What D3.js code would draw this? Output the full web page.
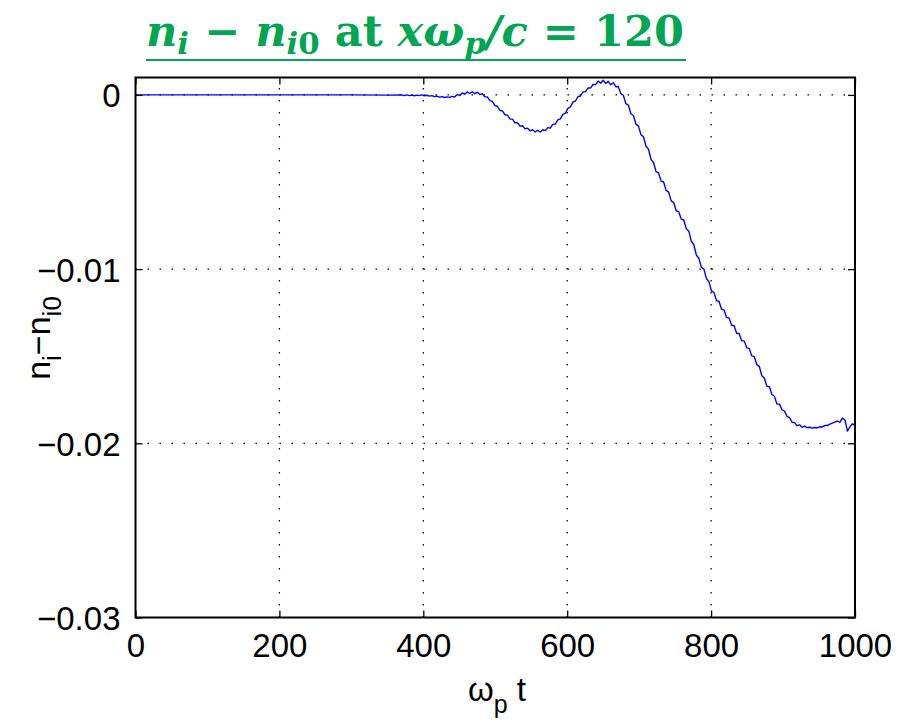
<!DOCTYPE html>
<html><head><meta charset="utf-8">
<script src="https://cdn.jsdelivr.net/npm/d3@7"></script>
<style>body{margin:0;background:#fff}svg{display:block}</style>
</head><body>
<svg id="chart" width="918" height="727"></svg>
<script>
// ---- data ----
const xTicks = [0, 200, 400, 600, 800, 1000];
const yTicks = [0, -0.01, -0.02, -0.03];
const yTickLabels = ["0", "\u22120.01", "\u22120.02", "\u22120.03"];
const xDomain = [0, 1000];
const yDomain = [-0.03, 0.001];

// early, nearly flat part (omega_p t, value in units of 1e-3)
const tEarly = [0, 50, 100, 150, 200, 250, 300, 350];
const vEarly = [0, 0, 0, 0, 0, 0, 0, -0.01];

// dense part: omega_p t from 370 to 1000, every 3.5 (values in units of 1e-3)
const denseStart = 370;
const denseStep = 3.5;
const vDense = [
  0.00,-0.04,0.00,-0.04,-0.01,-0.05,-0.01,-0.04,0.00,-0.05,
  -0.02,-0.07,-0.04,-0.10,-0.07,-0.13,-0.10,-0.15,-0.11,-0.14,
  -0.08,-0.12,0.02,-0.03,0.11,0.04,0.17,0.08,0.18,0.07,
  0.15,0.02,0.07,-0.11,-0.11,-0.33,-0.37,-0.61,-0.65,-0.89,
  -0.92,-1.14,-1.16,-1.38,-1.39,-1.60,-1.60,-1.79,-1.77,-1.95,
  -1.91,-2.06,-2.00,-2.13,-2.04,-2.13,-2.00,-2.05,-1.88,-1.90,
  -1.69,-1.67,-1.43,-1.38,-1.12,-1.05,-0.77,-0.69,-0.41,-0.35,
  -0.10,-0.06,0.17,0.19,0.40,0.40,0.60,0.59,0.79,0.67,
  0.84,0.66,0.78,0.58,0.70,0.47,0.48,0.07,-0.02,-0.50,
  -0.58,-1.08,-1.18,-1.68,-1.78,-2.28,-2.40,-2.95,-3.12,-3.70,
  -3.88,-4.40,-4.48,-4.95,-5.00,-5.48,-5.58,-6.08,-6.18,-6.65,
  -6.70,-7.13,-7.18,-7.68,-7.82,-8.40,-8.60,-9.20,-9.38,-9.90,
  -10.00,-10.55,-10.72,-11.25,-11.35,-11.80,-11.85,-12.30,-12.35,-12.78,
  -12.80,-13.22,-13.25,-13.68,-13.70,-14.12,-14.12,-14.52,-14.55,-14.98,
  -15.02,-15.48,-15.58,-16.12,-16.25,-16.72,-16.75,-17.20,-17.30,-17.75,
  -17.75,-18.07,-18.15,-18.45,-18.53,-18.79,-18.81,-18.99,-18.94,-19.08,
  -19.01,-19.10,-19.08,-19.13,-19.09,-19.12,-19.05,-19.06,-18.98,-18.98,
  -18.90,-18.84,-18.78,-18.72,-18.80,-18.55,-18.66,-19.30,-19.05,-18.88,
  -18.97
];

// ---- build series ----
const series = tEarly.map((t, i) => ({t, v: vEarly[i] * 1e-3}))
  .concat(vDense.map((v, k) => ({t: denseStart + k * denseStep, v: v * 1e-3})));

// ---- layout ----
const svg = d3.select("#chart");
const L = 135.5, R = 855, T = 77.5, B = 617.5;
const x = d3.scaleLinear().domain(xDomain).range([L, R]);
const y = d3.scaleLinear().domain(yDomain).range([B, T]);
const FONT = "'Liberation Sans', Arial, Helvetica, sans-serif";
const tickFS = 33;

// grid (dotted)
const grid = svg.append("g").attr("stroke", "#000").attr("stroke-width", 1.3)
  .attr("stroke-dasharray", "1.5,10.5");
grid.selectAll(".gx").data(xTicks.slice(1, -1)).join("line")
  .attr("x1", d => x(d)).attr("x2", d => x(d)).attr("y1", B).attr("y2", T);
grid.selectAll(".gy").data(yTicks.slice(0, -1)).join("line")
  .attr("y1", d => y(d)).attr("y2", d => y(d)).attr("x1", L).attr("x2", R);

// data line
const line = d3.line().x(d => x(d.t)).y(d => y(d.v));
svg.append("path").datum(series).attr("d", line)
  .attr("fill", "none").attr("stroke", "#0000ff").attr("stroke-width", 1.4)
  .attr("stroke-linejoin", "round");

// axes with inward ticks (mirrored on top/right)
const tl = 7;
const axB = svg.append("g").attr("transform", `translate(0,${B})`)
  .call(d3.axisBottom(x).tickValues(xTicks).tickSize(-tl).tickPadding(16).tickFormat(d3.format("d")));
const axT = svg.append("g").attr("transform", `translate(0,${T})`)
  .call(d3.axisTop(x).tickValues(xTicks).tickSize(-tl).tickFormat(""));
const axL = svg.append("g").attr("transform", `translate(${L},0)`)
  .call(d3.axisLeft(y).tickValues(yTicks).tickSize(-tl).tickPadding(15)
    .tickFormat((d, i) => yTickLabels[i]));
const axR = svg.append("g").attr("transform", `translate(${R},0)`)
  .call(d3.axisRight(y).tickValues(yTicks).tickSize(-tl).tickFormat(""));
[axB, axT, axL, axR].forEach(a => {
  a.select(".domain").remove();
  a.selectAll(".tick line").attr("stroke", "#000").attr("stroke-width", 1.3);
  a.selectAll("text").attr("font-family", FONT).attr("font-size", tickFS).attr("fill", "#000");
});
axB.selectAll("text").attr("dy", "0.71em");
axL.selectAll("text").attr("dy", "0.36em");

// frame
svg.append("rect").attr("x", L).attr("y", T).attr("width", R - L).attr("height", B - T)
  .attr("fill", "none").attr("stroke", "#000").attr("stroke-width", 2);

// x label: ω_p t
const xl = svg.append("text").attr("x", 497).attr("y", 701).attr("text-anchor", "middle")
  .attr("font-family", FONT).attr("font-size", 33).attr("fill", "#000");
xl.append("tspan").text("\u03c9");
xl.append("tspan").attr("font-size", 25).attr("dy", 12).text("p");
xl.append("tspan").attr("dy", -12).text(" t");

// y label: n_i − n_i0
const yl = svg.append("text").attr("transform", "translate(50,338) rotate(-90)")
  .attr("text-anchor", "middle").attr("font-family", FONT).attr("font-size", 34).attr("fill", "#000");
yl.append("tspan").text("n");
yl.append("tspan").attr("font-size", 26).attr("dy", 11).text("i");
yl.append("tspan").attr("dy", -11).text("\u2212n");
yl.append("tspan").attr("font-size", 26).attr("dy", 11).text("i0");

// title
const green = "#00a651";
const title = svg.append("text").attr("x", 146).attr("y", 46)
  .attr("font-family", "'DejaVu Serif', serif").attr("font-weight", "bold")
  .attr("font-size", 42).attr("fill", green);
const parts = [
  {t: "n", it: true}, {t: "i", it: true, sub: true}, {t: " \u2212 ", it: false},
  {t: "n", it: true}, {t: "i", it: true, sub: true}, {t: "0", it: false, sub: true},
  {t: " at ", it: false}, {t: "x\u03c9", it: true}, {t: "p", it: true, sub: true},
  {t: "/c", it: true}, {t: " = 120", it: false}
];
let wasSub = false;
parts.forEach(p => {
  const s = title.append("tspan").text(p.t).attr("font-style", p.it ? "italic" : "normal");
  if (p.sub) { s.attr("font-size", 30); if (!wasSub) s.attr("dy", 8); }
  else if (wasSub) s.attr("dy", -8);
  wasSub = !!p.sub;
});
title.attr("xml:space", "preserve").style("white-space", "pre");
title.attr("textLength", 538).attr("lengthAdjust", "spacingAndGlyphs");
svg.append("line").attr("x1", 146).attr("x2", 686).attr("y1", 60).attr("y2", 60)
  .attr("stroke", green).attr("stroke-width", 2);
</script>
</body></html>
